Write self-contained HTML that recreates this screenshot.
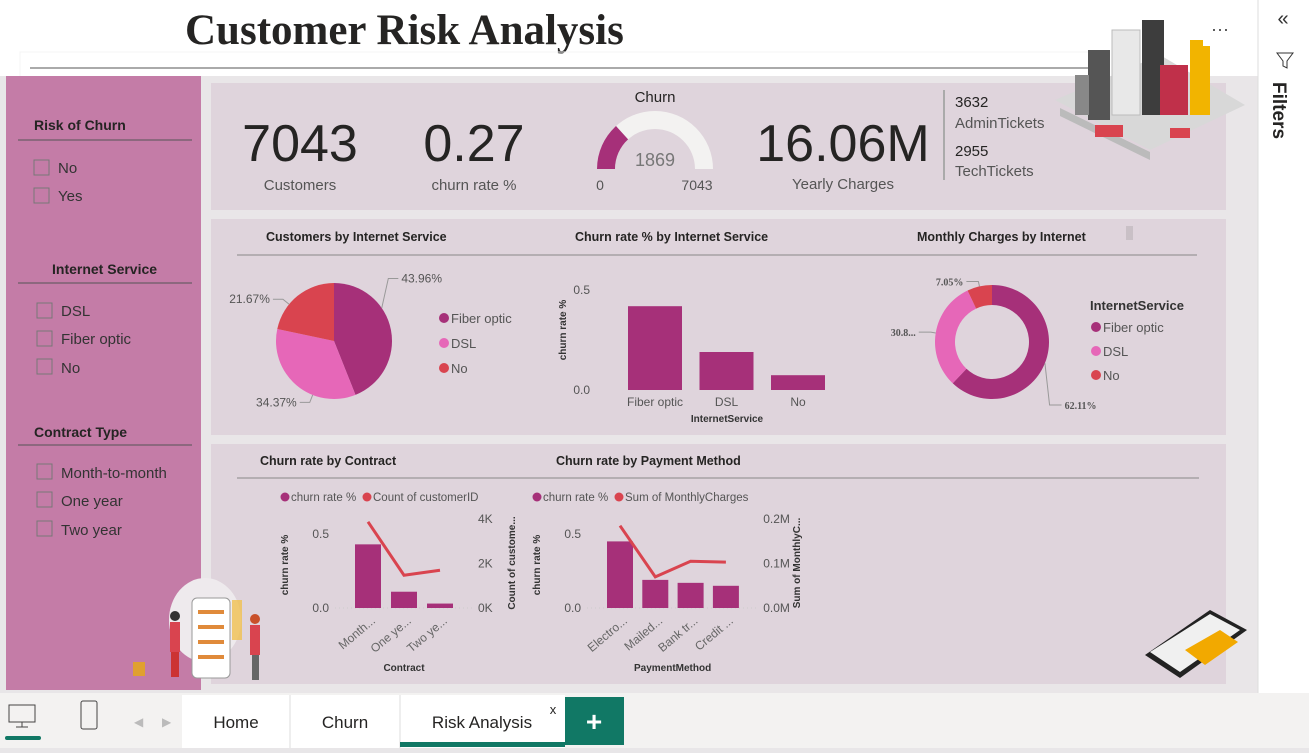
<!DOCTYPE html>
<html><head><meta charset="utf-8">
<style>
body{margin:0;width:1309px;height:748px;overflow:hidden;background:#e8e6e8;font-family:"Liberation Sans",sans-serif;}
svg text{font-family:"Liberation Sans",sans-serif;}
.kn{font-family:"Liberation Sans Narrow","Liberation Sans",sans-serif;}
</style></head>
<body>
<svg id="s" width="1309" height="748" viewBox="0 0 1309 748" xmlns="http://www.w3.org/2000/svg">
<rect x="0" y="0" width="1309" height="748" fill="#e8e6e8"/>
<rect x="0" y="0" width="1258" height="76" fill="#ffffff"/>
<text x="185" y="44" font-family="Liberation Serif" font-weight="bold" font-size="43" fill="#252423" style="font-family:'Liberation Serif',serif">Customer Risk Analysis</text>
<line x1="30" y1="68" x2="1090" y2="68" stroke="#555" stroke-width="1"/>
<rect x="20" y="52" width="1070" height="34" fill="none" stroke="#f4f4f4"/>
<rect x="201" y="76" width="1057" height="617" fill="#e9e6e8"/>

<!-- slicer panel -->
<g>
<rect x="6" y="76" width="195" height="614" fill="#c47ca7"/>
<text x="34" y="130" font-size="14" font-weight="bold" fill="#252423">Risk of Churn</text>
<line x1="18" y1="140" x2="192" y2="140" stroke="#555"/>
<rect x="34" y="160" width="15" height="15" fill="none" stroke="#777"/>
<text x="58" y="173" font-size="15" fill="#333">No</text>
<rect x="34" y="188" width="15" height="15" fill="none" stroke="#777"/>
<text x="58" y="201" font-size="15" fill="#333">Yes</text>
<text x="52" y="274" font-size="14" font-weight="bold" fill="#252423">Internet Service</text>
<line x1="18" y1="283" x2="192" y2="283" stroke="#555"/>
<rect x="37" y="303" width="15" height="15" fill="none" stroke="#777"/>
<text x="61" y="316" font-size="15" fill="#333">DSL</text>
<rect x="37" y="331" width="15" height="15" fill="none" stroke="#777"/>
<text x="61" y="344" font-size="15" fill="#333">Fiber optic</text>
<rect x="37" y="359" width="15" height="15" fill="none" stroke="#777"/>
<text x="61" y="373" font-size="15" fill="#333">No</text>
<text x="34" y="437" font-size="14" font-weight="bold" fill="#252423">Contract Type</text>
<line x1="18" y1="445" x2="192" y2="445" stroke="#555"/>
<rect x="37" y="464" width="15" height="15" fill="none" stroke="#777"/>
<text x="61" y="478" font-size="15" fill="#333">Month-to-month</text>
<rect x="37" y="492" width="15" height="15" fill="none" stroke="#777"/>
<text x="61" y="506" font-size="15" fill="#333">One year</text>
<rect x="37" y="521" width="15" height="15" fill="none" stroke="#777"/>
<text x="61" y="535" font-size="15" fill="#333">Two year</text>
</g>

<!-- KPI card -->
<rect x="211" y="83" width="1015" height="127" fill="#dfd4dc"/>
<text x="300" y="161" class="kn" font-size="52" fill="#252423" text-anchor="middle">7043</text>
<text x="300" y="190" font-size="15" fill="#555" text-anchor="middle">Customers</text>
<text x="474" y="161" class="kn" font-size="52" fill="#252423" text-anchor="middle">0.27</text>
<text x="474" y="190" font-size="15" fill="#555" text-anchor="middle">churn rate %</text>
<text x="655" y="102" font-size="15" fill="#252423" text-anchor="middle">Churn</text>
<g id="gauge"></g>
<text x="655" y="166" font-size="18" fill="#777" text-anchor="middle">1869</text>
<text x="600" y="190" font-size="14" fill="#555" text-anchor="middle">0</text>
<text x="697" y="190" font-size="14" fill="#555" text-anchor="middle">7043</text>
<text x="843" y="161" class="kn" font-size="52" fill="#252423" text-anchor="middle">16.06M</text>
<text x="843" y="189" font-size="15" fill="#555" text-anchor="middle">Yearly Charges</text>
<line x1="944" y1="90" x2="944" y2="180" stroke="#aaa" stroke-width="2"/>
<text x="955" y="107" font-size="15" fill="#252423">3632</text>
<text x="955" y="128" font-size="15" fill="#555">AdminTickets</text>
<text x="955" y="156" font-size="15" fill="#252423">2955</text>
<text x="955" y="176" font-size="15" fill="#555">TechTickets</text>

<g>
<polygon points="1055,100 1160,55 1245,105 1150,150" fill="#d8d8d8"/>
<polygon points="1060,108 1150,152 1150,160 1060,116" fill="#bbb"/>
<rect x="1088" y="50" width="22" height="70" fill="#555"/><rect x="1112" y="30" width="28" height="85" fill="#e8e8e8" stroke="#bbb"/>
<rect x="1142" y="20" width="22" height="95" fill="#3d3d3d"/><rect x="1160" y="65" width="28" height="50" fill="#c0304a"/>
<rect x="1190" y="40" width="20" height="75" fill="#f2b400"/><rect x="1075" y="75" width="14" height="40" fill="#888"/>
<rect x="1095" y="125" width="28" height="12" fill="#d9444f"/><rect x="1170" y="128" width="20" height="10" fill="#d9444f"/>
</g>
<rect x="1203" y="14" width="35" height="32" fill="#fff"/>
<text x="1220" y="35" font-size="18" fill="#444" text-anchor="middle">···</text>

<!-- middle card -->
<rect x="211" y="219" width="1015" height="216" fill="#dfd4dc"/>
<line x1="237" y1="255" x2="1197" y2="255" stroke="#888"/>
<text x="266" y="241" font-size="12.5" font-weight="bold" fill="#252423">Customers by Internet Service</text>
<text x="575" y="241" font-size="12.5" font-weight="bold" fill="#252423">Churn rate % by Internet Service</text>
<text x="917" y="241" font-size="12.5" font-weight="bold" fill="#252423">Monthly Charges by Internet</text>
<rect x="1126" y="226" width="7" height="14" fill="#c9c0c6"/>
<g id="pie"></g>
<g id="bar1"></g>
<g id="donut"></g>

<!-- bottom card -->
<rect x="211" y="444" width="1015" height="240" fill="#dfd4dc"/>
<line x1="237" y1="478" x2="1199" y2="478" stroke="#888"/>
<text x="260" y="465" font-size="12.5" font-weight="bold" fill="#252423">Churn rate by Contract</text>
<text x="556" y="465" font-size="12.5" font-weight="bold" fill="#252423">Churn rate by Payment Method</text>
<g id="combo1"></g>
<g id="combo2"></g>
<g>
<polygon points="1145,655 1210,610 1247,630 1180,678" fill="#222"/>
<polygon points="1150,652 1210,614 1240,630 1180,672" fill="#f0f0f0"/>
<polygon points="1185,650 1220,630 1238,642 1205,665" fill="#f2a900"/>
</g>
<g>
<ellipse cx="205" cy="620" rx="36" ry="42" fill="#eeeaed"/>
<rect x="192" y="598" width="38" height="80" rx="5" fill="#fff" stroke="#999"/>
<rect x="198" y="610" width="26" height="4" fill="#e08a3a"/><rect x="198" y="625" width="26" height="4" fill="#e08a3a"/><rect x="198" y="640" width="26" height="4" fill="#e08a3a"/><rect x="198" y="655" width="26" height="4" fill="#e08a3a"/>
<rect x="170" y="622" width="10" height="30" fill="#d9444f"/><rect x="171" y="652" width="8" height="25" fill="#c33"/>
<circle cx="175" cy="616" r="5" fill="#333"/>
<rect x="250" y="625" width="10" height="30" fill="#d9444f"/><rect x="252" y="655" width="7" height="25" fill="#666"/>
<circle cx="255" cy="619" r="5" fill="#c9502a"/>
<rect x="133" y="662" width="12" height="14" fill="#e0a030"/>
<rect x="232" y="600" width="10" height="40" fill="#f0c050" opacity="0.8"/>
</g>

<!-- right filters pane -->
<rect x="1258" y="0" width="51" height="693" fill="#fff"/>
<line x1="1258" y1="0" x2="1258" y2="693" stroke="#ddd"/>
<text x="1283" y="25" font-size="20" fill="#333" text-anchor="middle">«</text>
<path d="M1277 53 L1293 53 L1287 61 L1287 68 L1283 66 L1283 61 Z" fill="none" stroke="#333"/>
<text x="1273" y="82" font-size="19" font-weight="bold" fill="#252423" transform="rotate(90 1273 82)">Filters</text>

<!-- bottom bar -->
<rect x="0" y="693" width="1309" height="55" fill="#f3f2f1"/>
<rect x="9" y="705" width="26" height="17" fill="none" stroke="#444"/>
<line x1="22" y1="722" x2="22" y2="727" stroke="#444"/><line x1="16" y1="727" x2="28" y2="727" stroke="#444"/>
<rect x="5" y="736" width="36" height="4" rx="2" fill="#117865"/>
<rect x="81" y="701" width="16" height="28" rx="2" fill="none" stroke="#444"/>
<text x="134" y="726" font-size="12" fill="#bbb">◀</text>
<text x="162" y="726" font-size="12" fill="#bbb">▶</text>
<rect x="182" y="695" width="383" height="53" fill="#fff"/>
<line x1="290" y1="695" x2="290" y2="748" stroke="#ddd"/><line x1="400" y1="695" x2="400" y2="748" stroke="#ddd"/>
<text x="236" y="728" font-size="17" fill="#252423" text-anchor="middle">Home</text>
<text x="345" y="728" font-size="17" fill="#252423" text-anchor="middle">Churn</text>
<text x="482" y="728" font-size="17" fill="#252423" text-anchor="middle">Risk Analysis</text>
<text x="553" y="714" font-size="13" fill="#252423" text-anchor="middle">x</text>
<rect x="400" y="742" width="165" height="5" fill="#117865"/>
<rect x="565" y="697" width="59" height="48" fill="#117865"/>
<text x="594" y="731" font-size="28" font-weight="bold" fill="#fff" text-anchor="middle">+</text>
</svg>
<script>
const NS="http://www.w3.org/2000/svg";
const purple="#a63079",pink="#e667b8",red="#d9444f";
// data
const gaugeValue=1869, gaugeMax=7043;
const pieCats=["Fiber optic","DSL","No"];
const pieVals=[43.96,34.37,21.67];
const barCats=["Fiber optic","DSL","No"];
const barVals=[0.419,0.19,0.074];
const donutCats=["Fiber optic","DSL","No"];
const donutVals=[62.11,30.84,7.05];
const donutLabels=["62.11%","30.8...","7.05%"];
const contractCats=["Month...","One ye...","Two ye..."];
const contractRate=[0.43,0.11,0.03];
const contractCount=[3875,1473,1695];
const payCats=["Electro...","Mailed...","Bank tr...","Credit ..."];
const payRate=[0.45,0.19,0.17,0.15];
const payCharges=[0.185,0.07,0.105,0.103];

function el(tag,attrs,parent,txt){const e=document.createElementNS(NS,tag);for(const k in attrs)e.setAttribute(k,attrs[k]);if(txt!==undefined)e.textContent=txt;parent.appendChild(e);return e;}
function arcPath(cx,cy,r0,r1,a0,a1){
 const p=(r,a)=>[cx+r*Math.sin(a),cy-r*Math.cos(a)];
 const lg=(a1-a0)>Math.PI?1:0;
 const [x1,y1]=p(r1,a0),[x2,y2]=p(r1,a1);
 if(r0===0)return `M${cx} ${cy} L${x1} ${y1} A${r1} ${r1} 0 ${lg} 1 ${x2} ${y2} Z`;
 const [x3,y3]=p(r0,a1),[x4,y4]=p(r0,a0);
 return `M${x1} ${y1} A${r1} ${r1} 0 ${lg} 1 ${x2} ${y2} L${x3} ${y3} A${r0} ${r0} 0 ${lg} 0 ${x4} ${y4} Z`;
}
(function(){const g=document.getElementById('gauge');
 const a=-Math.PI/2, f=gaugeValue/gaugeMax;
 let e=el('path',{d:arcPath(655,169,40,58,a,Math.PI/2),fill:"#f3f2f1"},g);
 
 e=el('path',{d:arcPath(655,169,40,58,a,a+Math.PI*f),fill:purple},g);
 
})();
(function(){const g=document.getElementById('pie');const cx=334,cy=341,r=58;
 const cols=[purple,pink,red];const tot=pieVals.reduce((a,b)=>a+b,0);let a=0;
 pieVals.forEach((v,i)=>{const b=a+v/tot*2*Math.PI;
  const e=el('path',{d:arcPath(cx,cy,0,r,a,b),fill:cols[i]},g);
  
  const m=a+(b-a)*0.35;const lx=cx+(r+8)*Math.sin(m),ly=cy-(r+8)*Math.cos(m)-(i===0?25:0);
  const right=Math.sin(m)>0;const ex=right?lx+10:lx-10;
  el('polyline',{points:`${cx+r*Math.sin(m)},${cy-r*Math.cos(m)} ${lx},${ly} ${ex},${ly}`,fill:"none",stroke:"#999"},g);
  const t=el('text',{x:right?ex+3:ex-3,y:ly+4,"font-size":12,fill:"#555","text-anchor":right?"start":"end"},g,v.toFixed(2)+"%");
  
  a=b;});
 pieCats.forEach((c,i)=>{el('circle',{cx:444,cy:318+i*25,r:5,fill:cols[i]},g);
  const t=el('text',{x:451,y:323+i*25,"font-size":13,fill:"#555"},g,c);
  });
})();
(function(){const g=document.getElementById('bar1');const y0=390,y05=290;const ys=v=>y0-(v/0.5)*(y0-y05);
 [[0,"0.0"],[0.5,"0.5"]].forEach(([v,l])=>{el('text',{x:590,y:ys(v)+4,"font-size":12,fill:"#555","text-anchor":"end"},g,l);});
 const t=el('text',{x:0,y:0,"font-size":10,"font-weight":"bold",fill:"#333","text-anchor":"middle",transform:"translate(566 330) rotate(-90)"},g,"churn rate %");
 
 barCats.forEach((c,i)=>{const x=628+i*71.5;const b=el('rect',{x:x,y:ys(barVals[i]),width:54,height:y0-ys(barVals[i]),fill:purple},g);
  
  el('text',{x:x+27,y:406,"font-size":12,fill:"#555","text-anchor":"middle"},g,c);});
 const xt=el('text',{x:727,y:422,"font-size":10,"font-weight":"bold",fill:"#333","text-anchor":"middle"},g,"InternetService");
 
})();
(function(){const g=document.getElementById('donut');const cx=992,cy=342;const cols=[purple,pink,red];
 const tot=donutVals.reduce((a,b)=>a+b,0);let a=0;
 donutVals.forEach((v,i)=>{const b=a+v/tot*2*Math.PI;
  const e=el('path',{d:arcPath(cx,cy,37,57,a,b),fill:cols[i]},g);
  
  const m=(a+b)/2;const lx=cx+62*Math.sin(m),ly=cy-62*Math.cos(m)+(i===0?40:0);const right=Math.sin(m)>0;const ex=right?lx+12:lx-12;
  el('polyline',{points:`${cx+57*Math.sin(m)},${cy-57*Math.cos(m)} ${lx},${ly} ${ex},${ly}`,fill:"none",stroke:"#999"},g);
  el('text',{x:right?ex+3:ex-3,y:ly+4,"font-size":10,"font-weight":"bold",fill:"#555","text-anchor":right?"start":"end",style:"font-family:'Liberation Serif',serif"},g,donutLabels[i]);
  a=b;});
 el('text',{x:1090,y:310,"font-size":13,"font-weight":"bold",fill:"#333"},g,"InternetService");
 donutCats.forEach((c,i)=>{el('circle',{cx:1096,cy:327+i*24,r:5,fill:cols[i]},g);
  const t=el('text',{x:1103,y:332+i*24,"font-size":13,fill:"#555"},g,c);
  });
})();
function combo(id,x0,cats,rates,line,lineMax,lineTicks,leg2,ax2,xTitle,step,bw){
 const g=document.getElementById(id);const yb=608,yt=519,y05=534;
 const ys=v=>yb-(v/0.5)*(yb-y05);const yl=v=>yb-(v/lineMax)*(yb-yt);
 el('circle',{cx:x0-70,cy:497,r:4.5,fill:purple},g);
 el('text',{x:x0-64,y:501,"font-size":11.5,fill:"#555"},g,"churn rate %");
 el('circle',{cx:x0+12,cy:497,r:4.5,fill:red},g);
 el('text',{x:x0+18,y:501,"font-size":11.5,fill:"#555"},g,leg2);
 el('text',{x:x0-26,y:ys(0)+4,"font-size":12,fill:"#555","text-anchor":"end"},g,"0.0");
 el('text',{x:x0-26,y:ys(0.5)+4,"font-size":12,fill:"#555","text-anchor":"end"},g,"0.5");
 el('text',{x:0,y:0,"font-size":10,"font-weight":"bold",fill:"#333","text-anchor":"middle",transform:`translate(${x0-67} 565) rotate(-90)`},g,"churn rate %");
 el('line',{x1:x0-20,y1:yb,x2:x0+step*cats.length+10,y2:yb,stroke:"#ccc","stroke-dasharray":"1 3"},g);
 const rx=x0+step*cats.length+15;
 lineTicks.forEach(([v,l])=>el('text',{x:rx,y:yl(v)+4,"font-size":12,fill:"#555"},g,l));
 el('text',{x:0,y:0,"font-size":10,"font-weight":"bold",fill:"#333","text-anchor":"middle",transform:`translate(${rx+37} 563) rotate(-90)`},g,ax2);
 const pts=[];
 cats.forEach((c,i)=>{const x=x0+i*step;const b=el('rect',{x:x,y:ys(rates[i]),width:bw,height:yb-ys(rates[i]),fill:purple},g);
  
  pts.push(`${x+bw/2},${yl(line[i])}`);
  el('text',{x:0,y:0,"font-size":12,fill:"#666","text-anchor":"end",transform:`translate(${x+bw/2+8} ${yb+14}) rotate(-40)`},g,c);});
 const p=el('polyline',{points:pts.join(' '),fill:"none",stroke:red,"stroke-width":3},g);
 
 el('text',{x:x0+step*cats.length/2-5,y:671,"font-size":10,"font-weight":"bold",fill:"#333","text-anchor":"middle"},g,xTitle);
}
combo('combo1',355,contractCats,contractRate,contractCount,4000,[[0,"0K"],[2000,"2K"],[4000,"4K"]],"Count of customerID","Count of custome...","Contract",36,26);
combo('combo2',607,payCats,payRate,payCharges,0.2,[[0,"0.0M"],[0.1,"0.1M"],[0.2,"0.2M"]],"Sum of MonthlyCharges","Sum of MonthlyC...","PaymentMethod",35.3,26);
</script>
</body></html>
